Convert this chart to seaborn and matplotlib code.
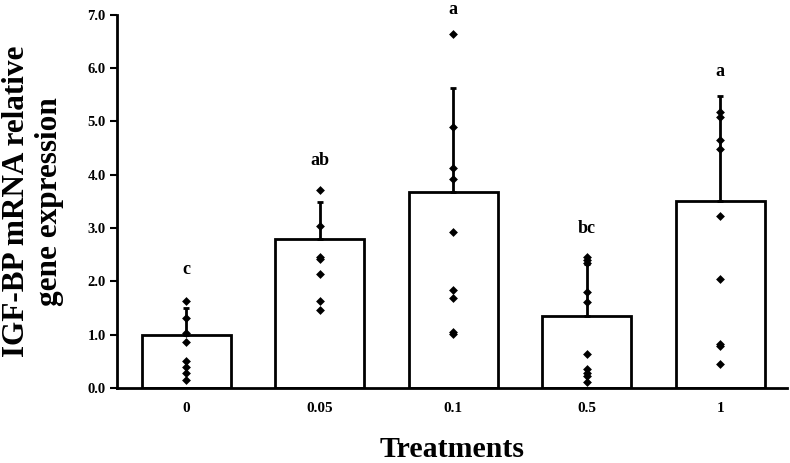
import matplotlib
matplotlib.use("Agg")
import matplotlib.pyplot as plt
import seaborn as sns
import pandas as pd

sns.set_theme(style="white")
plt.rcParams['font.family'] = ['Liberation Serif', 'DejaVu Serif']
plt.rcParams['font.weight'] = 'bold'
for k in ["text.color", "axes.labelcolor", "xtick.color", "ytick.color"]:
    plt.rcParams[k] = "black"

categories = ["0", "0.05", "0.1", "0.5", "1"]
means = [1.00, 2.80, 3.68, 1.35, 3.51]
err_top = [1.50, 3.49, 5.63, 2.33, 5.48]
letters = ["c", "ab", "a", "bc", "a"]
letter_y = [2.23, 4.26, 7.10, 3.00, 5.93]

points_0 = [1.64, 1.32, 1.03, 0.87, 0.51, 0.40, 0.29, 0.15]
points_005 = [3.72, 3.03, 2.46, 2.42, 2.14, 1.64, 1.47]
points_01 = [6.64, 4.90, 4.12, 3.92, 2.92, 1.84, 1.68, 1.05, 1.02]
points_05 = [2.46, 2.40, 2.35, 1.80, 1.62, 0.63, 0.36, 0.29, 0.23, 0.12]
points_1 = [5.17, 5.08, 4.65, 4.48, 3.23, 2.04, 0.82, 0.78, 0.45]

all_points = [points_0, points_005, points_01, points_05, points_1]
rows = []
for c, pts in zip(categories, all_points):
    for v in pts:
        rows.append({"Treatment": c, "value": v})
pts_df = pd.DataFrame(rows)
bar_df = pd.DataFrame({"Treatment": categories, "mean": means})

fig = plt.figure(figsize=(7.9, 4.63), dpi=100)
ax = fig.add_axes([0.148, 0.162, 0.848, 0.806])

sns.barplot(data=bar_df, x="Treatment", y="mean", order=categories,
            color="white", edgecolor="black", linewidth=2, width=0.667,
            errorbar=None, ax=ax, zorder=1)

upper = [t - m for t, m in zip(err_top, means)]
ax.errorbar(range(len(categories)), means, yerr=[[0]*len(means), upper],
            fmt="none", ecolor="black", elinewidth=2, capsize=2, capthick=2,
            zorder=2)

sns.stripplot(data=pts_df, x="Treatment", y="value", order=categories,
              jitter=False, marker="D", color="black", size=4.5, ax=ax,
              zorder=3)

for i, (lab, y) in enumerate(zip(letters, letter_y)):
    ax.text(i, y, lab, ha="center", va="center", fontsize=13,
            fontweight="bold", color="black", clip_on=False)

ax.set_ylim(0, 7)
ax.set_xlim(-0.52, 4.5)
ax.set_yticks([0, 1, 2, 3, 4, 5, 6, 7])
ax.set_yticklabels([f"{v:.1f}" for v in range(8)], fontsize=10.5, fontweight="bold")
ax.set_xticks(range(len(categories)))
ax.set_xticklabels(categories, fontsize=11, fontweight="bold")

ax.tick_params(axis="y", direction="out", length=5, width=1.5, left=True, pad=3)
ax.tick_params(axis="x", direction="in", length=3, width=1.5, bottom=True, pad=10)

for s in ["top", "right"]:
    ax.spines[s].set_visible(False)
for s in ["left", "bottom"]:
    ax.spines[s].set_color("black")
    ax.spines[s].set_linewidth(2)

ax.set_ylabel("IGF-BP mRNA relative\ngene expression", fontsize=22.5,
              fontweight="bold", labelpad=17, linespacing=1.2)
ax.set_xlabel("Treatments", fontsize=21.5, fontweight="bold", labelpad=15)

fig.savefig("out.png", dpi=100)
